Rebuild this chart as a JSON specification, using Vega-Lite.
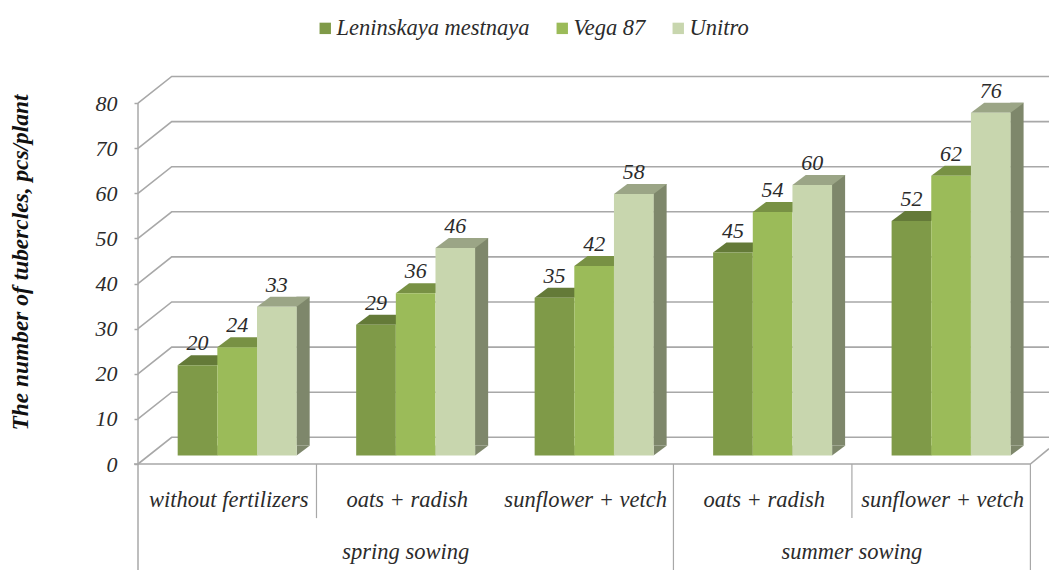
{
"$schema":"https://vega.github.io/schema/vega-lite/v6.json",
"width":911,"height":464,
"autosize":{"type":"none"},
"padding":{"left":138,"top":0,"right":0,"bottom":110},
"background":"white",
"config":{"view":{"stroke":null},"text":{"font":"Liberation Serif","fontStyle":"italic"}},
"datasets":{
"bars":[
{"sowing":"spring sowing","condition":"spring|without fertilizers","variety":"Leninskaya mestnaya","tubercles":20},
{"sowing":"spring sowing","condition":"spring|without fertilizers","variety":"Vega 87","tubercles":24},
{"sowing":"spring sowing","condition":"spring|without fertilizers","variety":"Unitro","tubercles":33},
{"sowing":"spring sowing","condition":"spring|oats + radish","variety":"Leninskaya mestnaya","tubercles":29},
{"sowing":"spring sowing","condition":"spring|oats + radish","variety":"Vega 87","tubercles":36},
{"sowing":"spring sowing","condition":"spring|oats + radish","variety":"Unitro","tubercles":46},
{"sowing":"spring sowing","condition":"spring|sunflower + vetch","variety":"Leninskaya mestnaya","tubercles":35},
{"sowing":"spring sowing","condition":"spring|sunflower + vetch","variety":"Vega 87","tubercles":42},
{"sowing":"spring sowing","condition":"spring|sunflower + vetch","variety":"Unitro","tubercles":58},
{"sowing":"summer sowing","condition":"summer|oats + radish","variety":"Leninskaya mestnaya","tubercles":45},
{"sowing":"summer sowing","condition":"summer|oats + radish","variety":"Vega 87","tubercles":54},
{"sowing":"summer sowing","condition":"summer|oats + radish","variety":"Unitro","tubercles":60},
{"sowing":"summer sowing","condition":"summer|sunflower + vetch","variety":"Leninskaya mestnaya","tubercles":52},
{"sowing":"summer sowing","condition":"summer|sunflower + vetch","variety":"Vega 87","tubercles":62},
{"sowing":"summer sowing","condition":"summer|sunflower + vetch","variety":"Unitro","tubercles":76}
],
"ticks":[{"tick":0},{"tick":10},{"tick":20},{"tick":30},{"tick":40},{"tick":50},{"tick":60},{"tick":70},{"tick":80}],
"conds":[{"condition":"spring|without fertilizers"},{"condition":"spring|oats + radish"},{"condition":"spring|sunflower + vetch"},{"condition":"summer|oats + radish"},{"condition":"summer|sunflower + vetch"}]
},
"encoding":{
"x":{"field":"condition","type":"nominal","sort":null,
 "scale":{"domain":["spring|without fertilizers","spring|oats + radish","spring|sunflower + vetch","summer|oats + radish","summer|sunflower + vetch"],"range":[0,892.4],"paddingInner":0,"paddingOuter":0},
 "axis":{"title":null,"domain":false,"ticks":false,"grid":false,"labelAngle":0,"labelPadding":24,"labelOffset":1.5,"labelFont":"Liberation Serif","labelFontStyle":"italic","labelFontSize":22.5,"labelColor":"#2b2b2b","labelLimit":400,"labelOverlap":false,"labelExpr":"split(datum.label,'|')[1]"}},
"y":{"type":"quantitative","scale":{"domain":[0,102.88],"range":[464,0],"nice":false,"zero":false}},
"xOffset":{"field":"variety","type":"nominal","sort":null,"scale":{"domain":["Leninskaya mestnaya","Vega 87","Unitro"],"paddingInner":0,"paddingOuter":0.75,"align":0.667}}
},
"layer":[
{"data":{"name":"ticks"},
 "mark":{"type":"point","shape":"M0,0L33.7,-26.7L911,-26.7","size":4,"filled":false,"stroke":"#a8a8a8","strokeWidth":1.6,"opacity":1},
 "encoding":{"xOffset":null,"x":{"datum":"spring|without fertilizers","bandPosition":0},"y":{"field":"tick","type":"quantitative",
   "axis":{"values":[0,10,20,30,40,50,60,70,80],"title":"The number of tubercles, pcs/plant","titleFont":"Liberation Serif","titleFontStyle":"italic","titleFontWeight":"bold","titleFontSize":23.4,"titleColor":"#111","titleX":-106,"titleY":262,"domain":false,"grid":false,"tickSize":4,"tickColor":"#a8a8a8","tickWidth":1.5,"labelPadding":17,"labelFont":"Liberation Serif","labelFontStyle":"italic","labelFontSize":22,"labelColor":"#2b2b2b"}}}},
{"data":{"name":"ticks"},"transform":[{"filter":"datum.tick===0"}],
 "mark":{"type":"point","shape":"M-4,0L892.4,0L911,-15.3","size":4,"filled":false,"stroke":"#a8a8a8","strokeWidth":1.6,"opacity":1},
 "encoding":{"xOffset":null,"x":{"datum":"spring|without fertilizers","bandPosition":0},"y":{"field":"tick","type":"quantitative"}}},
{"data":{"name":"conds"},"transform":[{"filter":"datum.condition==='spring|without fertilizers'"}],
 "mark":{"type":"rule","stroke":"#a8a8a8","strokeWidth":1.5},
 "encoding":{"xOffset":null,"x":{"field":"condition","type":"nominal","bandPosition":0},"y":{"datum":80},"y2":{"datum":-23.5}}},
{"data":{"name":"conds"},"transform":[{"filter":"datum.condition==='spring|oats + radish'||datum.condition==='summer|sunflower + vetch'"}],
 "mark":{"type":"rule","stroke":"#a8a8a8","strokeWidth":1.2},
 "encoding":{"xOffset":null,"x":{"field":"condition","type":"nominal","bandPosition":0},"y":{"datum":0},"y2":{"datum":-12}}},
{"data":{"name":"conds"},"transform":[{"filter":"datum.condition==='summer|oats + radish'"}],
 "mark":{"type":"rule","stroke":"#a8a8a8","strokeWidth":1.2},
 "encoding":{"xOffset":null,"x":{"field":"condition","type":"nominal","bandPosition":0},"y":{"datum":0},"y2":{"datum":-23.5}}},
{"data":{"name":"conds"},"transform":[{"filter":"datum.condition==='summer|sunflower + vetch'"}],
 "mark":{"type":"rule","stroke":"#a8a8a8","strokeWidth":1.2},
 "encoding":{"xOffset":null,"x":{"field":"condition","type":"nominal","bandPosition":1},"y":{"datum":0},"y2":{"datum":-23.5}}},
{"data":{"name":"bars"},"transform":[{"filter":"datum.variety==='Unitro'"}],
 "mark":{"type":"rule","strokeWidth":13.3,"yOffset":-18.5,"color":"#7e876b"},
 "encoding":{
  "xOffset":null,
  "x":{"field":"condition","type":"nominal","bandPosition":0.9246},
  "y":{"field":"tubercles","type":"quantitative"},
  "y2":{"datum":4.1}}},
{"data":{"name":"bars"},
 "mark":{"type":"point","shape":"M19.83,0L33.13,-10L19.83,-10Z","size":4,"filled":true,"opacity":1,"yOffset":-8.5},
 "encoding":{
  "y":{"datum":0},
  "color":{"field":"variety","type":"nominal","legend":null,"scale":{"domain":["Leninskaya mestnaya","Vega 87","Unitro"],"range":["#647a38","#789144","#7e876b"]}}}},
{"data":{"name":"bars"},
 "mark":{"type":"point","shape":"M-19.83,0L19.83,0L33.13,-10L-6.53,-10Z","size":4,"filled":true,"opacity":1,"yOffset":-8.5},
 "encoding":{
  "y":{"field":"tubercles","type":"quantitative"},
  "color":{"field":"variety","type":"nominal","legend":null,"scale":{"domain":["Leninskaya mestnaya","Vega 87","Unitro"],"range":["#647a38","#789144","#9ba586"]}}}},
{"data":{"name":"bars"},
 "mark":{"type":"bar","yOffset":-8.5},
 "encoding":{
  "y":{"field":"tubercles","type":"quantitative","stack":null},
  "y2":{"datum":1.885},
  "color":{"field":"variety","type":"nominal","scale":{"domain":["Leninskaya mestnaya","Vega 87","Unitro"],"range":["#7f9a48","#9bbb59","#c8d6ae"]},
   "legend":{"title":null,"orient":"none","legendX":176,"legendY":17,"direction":"horizontal","columns":3,"symbolType":"square","symbolSize":130,"symbolStrokeWidth":0,"labelFont":"Liberation Serif","labelFontStyle":"italic","labelFontSize":22.5,"labelColor":"#2b2b2b","labelOffset":0,"columnPadding":21,"labelLimit":400}}}},
{"data":{"name":"bars"},
 "mark":{"type":"text","font":"Liberation Serif","fontStyle":"italic","fontSize":22,"baseline":"alphabetic","align":"center","color":"#2b2b2b","yOffset":-23.5},
 "encoding":{
  "y":{"field":"tubercles","type":"quantitative"},
  "text":{"field":"tubercles","type":"quantitative"}}},
{"data":{"values":[{"condition":"spring|oats + radish","sowing":"spring sowing"}]},
 "mark":{"type":"text","font":"Liberation Serif","fontStyle":"italic","fontSize":22.5,"baseline":"middle","align":"center","color":"#2b2b2b"},
 "encoding":{"xOffset":null,"x":{"field":"condition","type":"nominal","bandPosition":0.5},"y":{"datum":-19.5},"text":{"field":"sowing"}}},
{"data":{"values":[{"condition":"summer|sunflower + vetch","sowing":"summer sowing"}]},
 "mark":{"type":"text","font":"Liberation Serif","fontStyle":"italic","fontSize":22.5,"baseline":"middle","align":"center","color":"#2b2b2b"},
 "encoding":{"xOffset":null,"x":{"field":"condition","type":"nominal","bandPosition":0},"y":{"datum":-19.5},"text":{"field":"sowing"}}}
],
"resolve":{"scale":{"color":"independent"}}
}
